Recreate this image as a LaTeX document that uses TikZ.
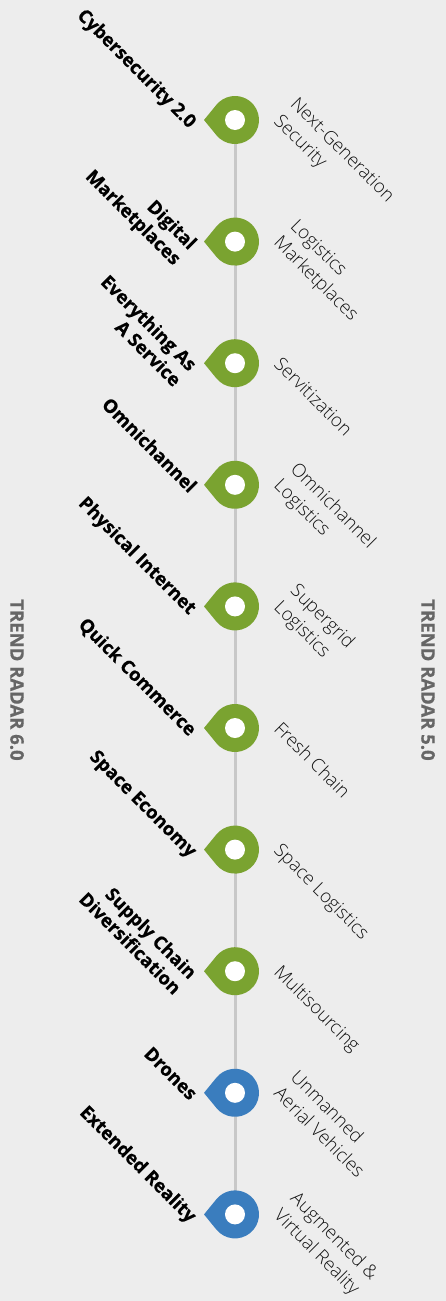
\documentclass[tikz,border=0pt]{standalone}
\usepackage{fontspec}
\setmainfont{Open Sans}
\newfontfamily\lightfont{Open Sans Light}
\newfontfamily\heavyfont{Open Sans}[BoldFeatures={FakeBold=0.6}]
\definecolor{BgClr}{HTML}{EDEDED}
\definecolor{PinGreen}{HTML}{7AA330}
\definecolor{PinBlue}{HTML}{3A7DBE}
\definecolor{LineClr}{HTML}{C8C8C8}
\definecolor{TitleClr}{HTML}{666666}
\definecolor{OldClr}{HTML}{111111}

\begin{document}
\begin{tikzpicture}[x=1pt,y=-1pt,
  newlabel/.style={rotate=-45,anchor=north east,align=right,inner sep=0pt,
    font=\heavyfont\bfseries\fontsize{18.5}{22}\selectfont},
  oldlabel/.style={rotate=-45,anchor=south west,align=left,inner sep=0pt,
    text depth=4pt,text=OldClr,font=\lightfont\fontsize{18.5}{23.5}\selectfont},
  radartitle/.style={rotate=-90,inner sep=0pt,text=TitleClr,
    font=\heavyfont\bfseries\fontsize{18.5}{22}\selectfont},
  connector/.style={draw=LineClr,line width=3pt}]

\fill[BgClr] (0,0) rectangle (446,1301);
\useasboundingbox (0,0) rectangle (446,1301);

\foreach \i in {1,...,10}
  \coordinate (p\i) at (235,{120+(\i-1)*121.6});

\foreach \i [count=\j from 2] in {1,...,9}
  \draw[connector] (p\i) -- (p\j);

\foreach \i/\clr/\new/\old in {
  1/PinGreen/{Cybersecurity 2.0}/{Next-Generation\\Security},
  2/PinGreen/{Digital\\Marketplaces}/{Logistics\\Marketplaces},
  3/PinGreen/{Everything As\\A Service}/{Servitization},
  4/PinGreen/{Omnichannel}/{Omnichannel\\Logistics},
  5/PinGreen/{Physical Internet}/{Supergrid\\Logistics},
  6/PinGreen/{Quick Commerce}/{Fresh Chain},
  7/PinGreen/{Space Economy}/{Space Logistics},
  8/PinGreen/{Supply Chain\\Diversification}/{Multisourcing},
  9/PinBlue/{Drones}/{Unmanned\\Aerial Vehicles},
  10/PinBlue/{Extended Reality}/{Augmented \&\\Virtual Reality}}{
  \begin{scope}[shift={(p\i)}]
    \fill[\clr] (-31,0) -- (141:24) arc[start angle=141,end angle=-141,radius=24] -- cycle;
    \fill[white] (0,0) circle[radius=10];
    \node[newlabel] (new\i) at (-36,-1) {\new};
    \node[oldlabel] (old\i) at (35,5) {\old};
  \end{scope}
}

\node[radartitle] (radar6) at (17,680) {TREND RADAR 6.0};
\node[radartitle] (radar5) at (428,680) {TREND RADAR 5.0};

\end{tikzpicture}
\end{document}
